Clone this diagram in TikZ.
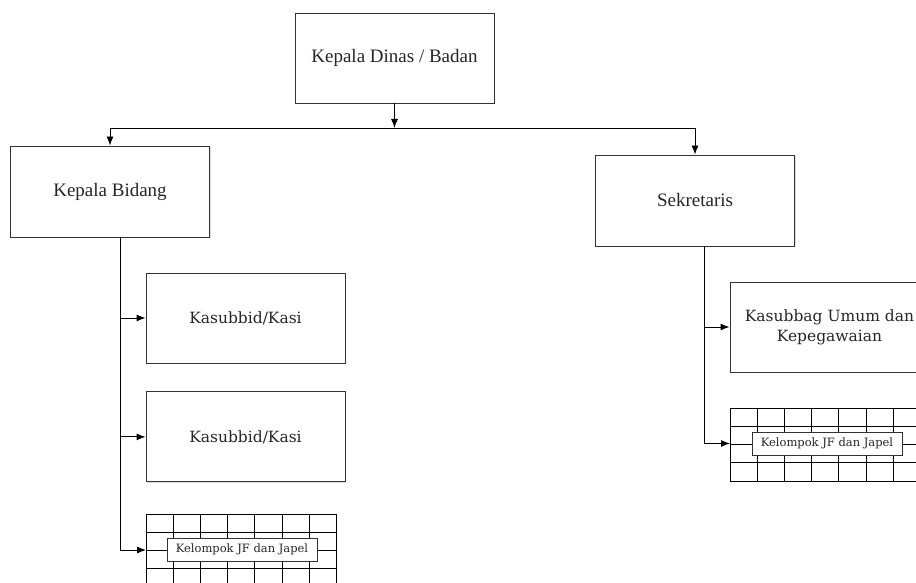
\documentclass[tikz,border=0pt]{standalone}
\usepackage{fontspec}
\setmainfont{Liberation Serif}
\newfontfamily\boxfont{DejaVu Serif}
\usetikzlibrary{arrows.meta,positioning,shadows}

\begin{document}
\begin{tikzpicture}[->,>={Latex[length=9pt,width=7pt]},x=1pt,y=1pt,
                    line width=0.9pt,node distance=28pt]
  \tikzstyle{every node}=[text=black!85]
  \tikzstyle{unit}=[draw=black!80,fill=white,minimum width=199pt,minimum height=90pt,
                    drop shadow={shadow xshift=1pt,shadow yshift=-1pt,fill=black!25}]
  \tikzstyle{head}=[unit,font=\fontsize{19}{21}\selectfont]
  \tikzstyle{sub}=[unit,font=\boxfont\fontsize{15.5}{20}\selectfont,align=center]
  \tikzstyle{jf}=[draw=black!80,fill=white,minimum width=150pt,minimum height=23pt,
                  font=\boxfont\fontsize{11.5}{13}\selectfont,
                  drop shadow={shadow xshift=1pt,shadow yshift=-1pt,fill=black!25}]
  \useasboundingbox (0,0) rectangle (916,-583);

  % grids behind the JF boxes
  \foreach \i in {0,...,7} \draw[-] (146+27.2*\i,-514) -- (146+27.2*\i,-590);
  \foreach \j in {0,...,4} \draw[-] (146,-514-18*\j) -- (336.4,-514-18*\j);
  \foreach \i in {0,...,7} \draw[-] (730+27.2*\i,-408) -- (730+27.2*\i,-481);
  \foreach \j in {0,...,4} \draw[-] (730,-408-18.25*\j) -- (920,-408-18.25*\j);

  \node[head] (kadis) at (394.5,-58)    {Kepala Dinas  / Badan}; % root
  \node[head,minimum height=91pt] (kabid) at (110,-191.5) {Kepala Bidang};
  \node[head,minimum height=91pt] (sekre) at (695,-200.5) {Sekretaris};
  \node[sub] (kasi1) at (245.5,-318)    {Kasubbid/Kasi};
  \node[sub] (kasi2) [below=of kasi1]   {Kasubbid/Kasi};
  \node[sub] (kasubbag) at (829.5,-327) {Kasubbag Umum dan\\Kepegawaian};
  \node[jf]  (jf1) at (242,-549.5)      {Kelompok JF dan Japel};
  \node[jf]  (jf2) at (827,-443.5)      {Kelompok JF dan Japel};

  \coordinate (bus)   at (394.5,-128);
  \coordinate (grid1) at (146,-550);
  \coordinate (grid2) at (730,-443.5);

  \draw (kadis.south) -- (bus);
  \draw (bus) -| (kabid.north);
  \draw (bus) -| (sekre.north);
  % left branch
  \draw ([xshift=10pt]kabid.south) |- (kasi1.west);
  \draw ([xshift=10pt]kabid.south) |- (kasi2.west);
  \draw ([xshift=10pt]kabid.south) |- (grid1);
  % right branch
  \draw ([xshift=9pt]sekre.south) |- (kasubbag.west);
  \draw ([xshift=9pt]sekre.south) |- (grid2);
\end{tikzpicture}
\end{document}
